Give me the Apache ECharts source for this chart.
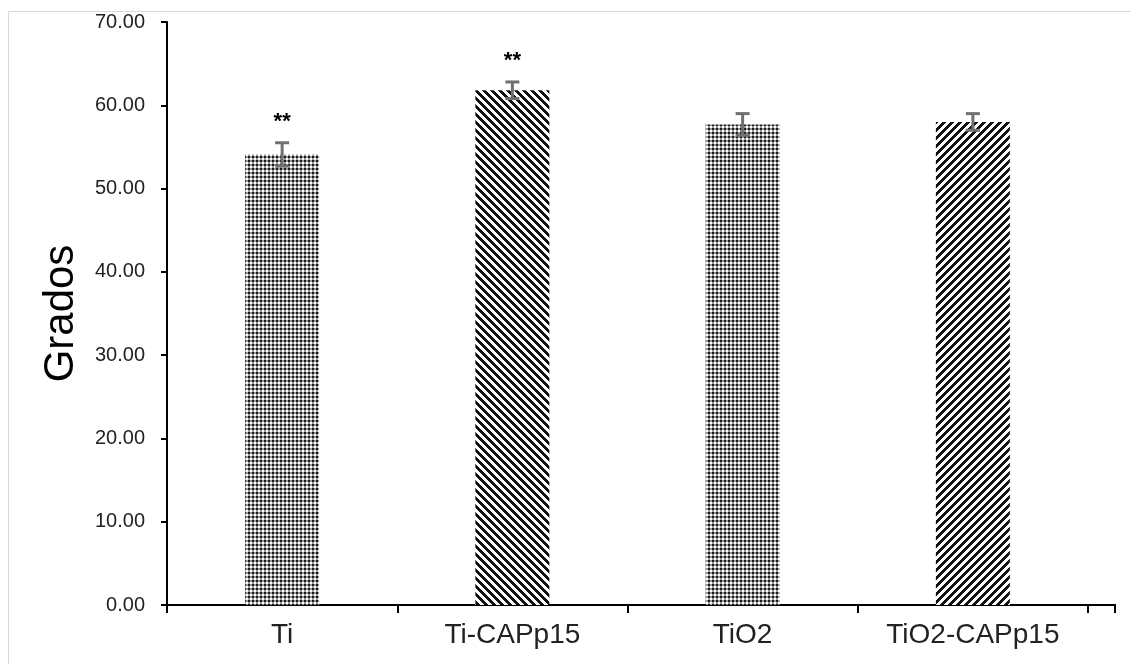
<!DOCTYPE html>
<html>
<head>
<meta charset="utf-8">
<script src="https://cdn.jsdelivr.net/npm/echarts@6/dist/echarts.min.js"></script>
<style>
  html, body { margin: 0; padding: 0; background: #fff; }
  #main { width: 1131px; height: 664px; }
</style>
</head>
<body>
<div id="main"></div>
<script>
// 数据
let categories = ['Ti', 'Ti-CAPp15', 'TiO2', 'TiO2-CAPp15']
let means = [54.1, 61.8, 57.7, 58.0]
let errors = [1.4, 1.0, 1.3, 1.0]
let marks = ['**', '**', '', '']

// 生成填充图案
function makePattern(type) {
  let c = document.createElement('canvas')
  c.width = 8
  c.height = 8
  let ctx = c.getContext('2d')
  ctx.fillStyle = '#fff'
  ctx.fillRect(0, 0, 8, 8)
  for (let x = 0; x < 8; x++) {
    for (let y = 0; y < 8; y++) {
      let col = null
      if (type == 'check') {
        // 格子纹
        let cx = Math.floor(x / 2) % 2
        let cy = Math.floor(y / 2) % 2
        if (cx == 0 && cy == 0) col = '#1a1a1a'
        else if (cx == 1 && cy == 1) col = '#ffffff'
        else col = '#9a9a9a'
      } else {
        // 斜线纹
        let d = type == 'down' ? (x - y) : (x + y)
        let m = ((d % 8) + 8) % 8
        col = m < 4 ? '#111' : '#fff'
      }
      ctx.fillStyle = col
      ctx.fillRect(x, y, 1, 1)
    }
  }
  return { image: c, repeat: 'repeat' }
}
let patterns = [makePattern('check'), makePattern('down'), makePattern('check'), makePattern('up')]

let mychart = echarts.init(document.querySelector('#main'))
let option = {
  backgroundColor: '#fff',
  animation: false,
  textStyle: { fontFamily: 'Liberation Sans, Arial, sans-serif' },
  graphic: [
    {
      type: 'rect',
      shape: { x: 8.5, y: 11.5, width: 1200, height: 700 },
      style: { fill: 'none', stroke: '#d9d9d9', lineWidth: 1 },
      silent: true
    },
    // x轴右侧延长段
    {
      type: 'polyline',
      shape: { points: [[1088, 605], [1115, 605], [1115, 613]] },
      style: { fill: 'none', stroke: '#000', lineWidth: 2 },
      silent: true
    }
  ],
  grid: { left: 167, right: 43, top: 22, bottom: 59 },
  xAxis: {
    type: 'category',
    data: categories,
    axisLine: { lineStyle: { color: '#000', width: 2 } },
    axisTick: { show: true, length: 8, lineStyle: { color: '#000', width: 2 } },
    axisLabel: { color: '#222', fontSize: 28, margin: 16 }
  },
  yAxis: {
    type: 'value',
    min: 0,
    max: 70,
    interval: 10,
    name: 'Grados',
    nameLocation: 'middle',
    nameGap: 85,
    nameTextStyle: { color: '#000', fontSize: 42 },
    axisLine: { show: true, lineStyle: { color: '#000', width: 2 } },
    axisTick: { show: true, length: 6, lineStyle: { color: '#000', width: 2 } },
    axisLabel: {
      color: '#222',
      fontSize: 20,
      margin: 22,
      formatter: function(v) {
        return v.toFixed(2)
      }
    },
    splitLine: { show: false }
  },
  series: [
    {
      type: 'bar',
      barWidth: 74,
      data: means.map(function(v, i) {
        return { value: v, itemStyle: { color: patterns[i] } }
      }),
      z: 2
    },
    {
      // 误差线
      type: 'custom',
      z: 3,
      data: means.map(function(v, i) {
        return [i, v, errors[i]]
      }),
      renderItem: function(params, api) {
        let x = api.value(0)
        let m = api.value(1)
        let e = api.value(2)
        let top = api.coord([x, m + e])
        let bot = api.coord([x, m - e])
        let hw = 7
        let st = { stroke: '#707070', lineWidth: 3 }
        return {
          type: 'group',
          children: [
            { type: 'line', shape: { x1: top[0], y1: top[1], x2: bot[0], y2: bot[1] }, style: st },
            { type: 'line', shape: { x1: top[0] - hw, y1: top[1], x2: top[0] + hw, y2: top[1] }, style: st },
            { type: 'line', shape: { x1: bot[0] - hw, y1: bot[1], x2: bot[0] + hw, y2: bot[1] }, style: st }
          ]
        }
      }
    },
    {
      // 显著性标记
      type: 'custom',
      z: 4,
      data: means.map(function(v, i) {
        return [i, v + errors[i]]
      }),
      renderItem: function(params, api) {
        let p = api.coord([api.value(0), api.value(1)])
        return {
          type: 'text',
          x: p[0],
          y: p[1] - 21,
          style: {
            text: marks[params.dataIndex],
            fill: '#000',
            font: 'bold 22px Liberation Sans, Arial, sans-serif',
            align: 'center',
            verticalAlign: 'middle'
          }
        }
      }
    }
  ]
}
mychart.setOption(option)
</script>
</body>
</html>
